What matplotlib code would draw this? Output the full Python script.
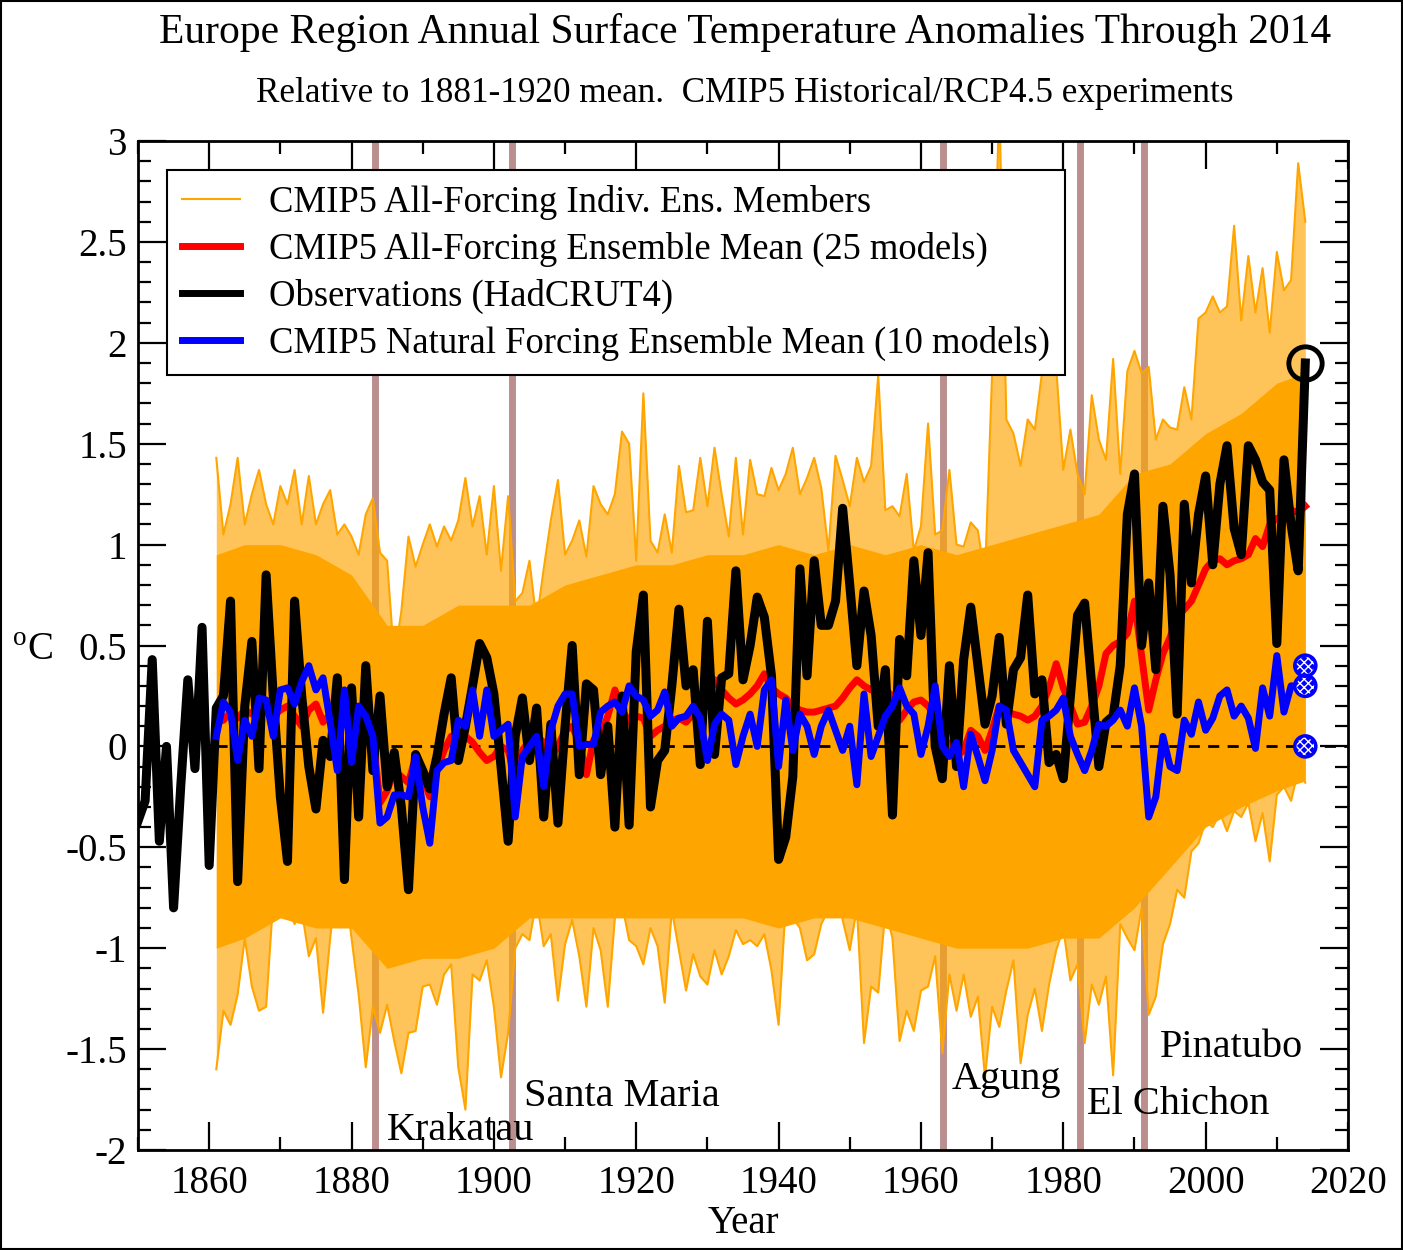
import numpy as np
import matplotlib.pyplot as plt
from matplotlib.lines import Line2D
from matplotlib.patches import Rectangle

plt.rcParams['font.family'] = ['Liberation Serif', 'DejaVu Serif']
plt.rcParams['mathtext.fontset'] = 'custom'
plt.rcParams['mathtext.rm'] = 'Liberation Serif'
plt.rcParams['axes.unicode_minus'] = False

# Observations (HadCRUT4), 1850-2014
obs_years = np.arange(1850, 2015)
obs = [-0.37, -0.27, 0.43, -0.47, 0.00, -0.80, -0.20, 0.33, -0.11, 0.59,
       -0.59, 0.19, 0.25, 0.72, -0.67, 0.20, 0.52, -0.11, 0.85, 0.25,
       -0.25, -0.57, 0.72, 0.25, -0.10, -0.31, 0.03, -0.05, 0.34, -0.66,
       0.29, -0.35, 0.40, -0.12, 0.25, -0.20, -0.03, -0.30, -0.71, -0.04,
       -0.12, -0.21, -0.05, 0.16, 0.34, -0.07, 0.10, 0.30, 0.51, 0.44,
       0.26, -0.10, -0.47, 0.05, 0.24, -0.07, 0.19, -0.35, 0.11, -0.38,
       0.10, 0.50, -0.14, 0.31, 0.28, -0.14, 0.10, -0.40, 0.25, -0.39,
       0.47, 0.75, -0.30, -0.07, -0.02, 0.30, 0.68, 0.30, 0.38, -0.09,
       0.62, -0.04, 0.34, 0.36, 0.87, 0.33, 0.50, 0.74, 0.64, 0.35,
       -0.56, -0.45, -0.15, 0.88, 0.35, 0.92, 0.60, 0.60, 0.72, 1.18,
       0.80, 0.40, 0.77, 0.55, 0.10, 0.38, -0.34, 0.53, 0.35, 0.92,
       0.55, 0.96, 0.00, -0.16, 0.40, -0.10, 0.43, 0.69, 0.40, 0.11,
       0.25, 0.54, 0.11, 0.38, 0.44, 0.75, 0.26, 0.33, -0.08, -0.04,
       -0.16, 0.25, 0.65, 0.71, 0.30, -0.10, 0.12, 0.15, 0.40, 1.15,
       1.35, 0.50, 0.81, 0.38, 1.19, 0.85, 0.16, 1.20, 0.81, 1.15,
       1.34, 0.90, 1.30, 1.49, 1.08, 0.95, 1.49, 1.42, 1.31, 1.27,
       0.51, 1.42, 1.10, 0.87, 1.90]

# CMIP5 all-forcing ensemble mean, 1861-2014
mod_years = np.arange(1861, 2015)
all_mean = [0.12, 0.13, 0.17, 0.14, 0.18, 0.16, 0.20, 0.17, 0.15, 0.18,
            0.20, 0.15, 0.10, 0.18, 0.21, 0.12, 0.16, 0.10, 0.14, 0.08,
            0.12, 0.10, 0.05, -0.28, -0.22, -0.12, -0.15, -0.18, -0.05, -0.15,
            -0.25, -0.12, -0.02, 0.05, 0.06, 0.05, 0.02, -0.03, -0.07, -0.05,
            0.00, -0.02, -0.15, -0.02, 0.03, 0.05, 0.02, -0.05, 0.00, 0.08,
            0.10, 0.02, -0.14, 0.03, 0.05, 0.15, 0.28, 0.18, 0.12, 0.15,
            0.14, 0.05, 0.08, 0.10, 0.13, 0.14, 0.12, 0.16, 0.18, 0.22,
            0.33, 0.28, 0.24, 0.21, 0.23, 0.26, 0.30, 0.36, 0.29, 0.26,
            0.24, 0.20, 0.18, 0.17, 0.17, 0.18, 0.19, 0.20, 0.24, 0.29,
            0.33, 0.30, 0.28, 0.27, 0.28, 0.25, 0.13, 0.18, 0.22, 0.23,
            0.20, 0.15, 0.05, 0.01, -0.05, -0.02, 0.08, 0.05, -0.02, 0.08,
            0.20, 0.17, 0.16, 0.15, 0.13, 0.15, 0.20, 0.29, 0.41, 0.29,
            0.20, 0.11, 0.12, 0.20, 0.30, 0.46, 0.50, 0.52, 0.56, 0.72,
            0.45, 0.18, 0.33, 0.46, 0.54, 0.64, 0.68, 0.72, 0.80, 0.88,
            0.92, 0.93, 0.90, 0.92, 0.93, 0.95, 1.03, 0.99, 1.10, 1.13,
            1.12, 1.17, 1.16, 1.19]

# CMIP5 natural forcing ensemble mean, 1861-2013
nat_years = np.arange(1861, 2014)
nat_mean = [0.05, 0.22, 0.17, -0.07, 0.13, 0.05, 0.24, 0.23, 0.05, 0.28,
            0.29, 0.21, 0.32, 0.40, 0.28, 0.34, 0.12, -0.12, 0.28, -0.08,
            0.20, 0.15, 0.05, -0.38, -0.35, -0.24, -0.24, -0.25, -0.05, -0.30,
            -0.48, -0.12, -0.08, -0.07, 0.13, 0.10, 0.28, 0.05, 0.28, 0.05,
            0.08, 0.11, -0.35, -0.05, 0.00, 0.05, -0.20, 0.08, 0.20, 0.26,
            0.26, 0.00, 0.01, 0.01, 0.17, 0.20, 0.22, 0.17, 0.30, 0.25,
            0.23, 0.15, 0.18, 0.27, 0.10, 0.14, 0.15, 0.20, 0.14, -0.07,
            0.11, 0.16, 0.13, -0.09, 0.05, 0.16, 0.00, 0.28, 0.33, -0.10,
            0.23, -0.02, 0.16, 0.10, -0.04, 0.10, 0.18, 0.08, -0.02, 0.10,
            -0.19, 0.26, -0.05, 0.05, 0.15, 0.20, 0.29, 0.20, 0.16, -0.04,
            0.10, 0.30, 0.00, -0.05, 0.02, -0.20, 0.06, -0.05, -0.17, -0.02,
            0.20, 0.18, -0.02, -0.08, -0.14, -0.20, 0.13, 0.15, 0.18, 0.24,
            0.05, -0.04, -0.12, -0.02, 0.11, 0.10, 0.13, 0.18, 0.10, 0.29,
            0.10, -0.35, -0.25, 0.05, -0.10, -0.12, 0.13, 0.06, 0.22, 0.08,
            0.14, 0.25, 0.28, 0.15, 0.20, 0.14, -0.01, 0.29, 0.15, 0.45,
            0.17, 0.30, 0.30]

# outer edges of the individual ensemble members, 1861-2014
ens_max = [1.43, 1.05, 1.20, 1.43, 1.10, 1.25, 1.37, 1.20, 1.10, 1.29,
           1.20, 1.37, 1.10, 1.34, 1.10, 1.20, 1.27, 1.05, 1.10, 1.04,
           0.95, 1.15, 1.23, 0.96, 0.92, 0.43, 0.67, 1.04, 0.89, 1.00,
           1.10, 0.99, 1.09, 1.02, 1.12, 1.33, 1.09, 1.24, 0.95, 1.29,
           0.87, 1.24, 0.72, 0.76, 0.92, 0.62, 0.88, 1.12, 1.32, 0.95,
           1.02, 1.12, 0.94, 1.29, 1.20, 1.15, 1.25, 1.56, 1.50, 0.92,
           1.75, 1.02, 0.96, 1.15, 0.96, 1.39, 1.16, 1.17, 1.43, 1.19,
           1.48, 1.25, 1.04, 1.43, 1.05, 1.42, 1.25, 1.24, 1.38, 1.27,
           1.35, 1.48, 1.25, 1.33, 1.43, 1.28, 0.97, 1.44, 1.32, 1.19,
           1.43, 1.31, 1.39, 1.84, 1.17, 1.19, 1.14, 1.35, 0.97, 1.09,
           1.60, 1.05, 1.07, 1.37, 1.00, 0.99, 1.11, 1.07, 0.84, 1.85,
           3.20, 1.62, 1.55, 1.39, 1.62, 1.57, 1.85, 1.86, 1.88, 1.37,
           1.57, 1.35, 1.25, 1.74, 1.52, 1.42, 1.92, 1.35, 1.86, 1.96,
           1.85, 1.88, 1.52, 1.62, 1.58, 1.57, 1.78, 1.62, 2.12, 2.15,
           2.23, 2.15, 2.18, 2.58, 2.11, 2.43, 2.15, 2.37, 2.05, 2.45,
           2.26, 2.31, 2.89, 2.60]
ens_min = [-1.60, -1.31, -1.38, -1.23, -0.95, -1.19, -1.31, -1.29, -0.76, -0.76,
           -0.80, -0.88, -0.81, -1.04, -0.95, -1.32, -0.95, -0.63, -0.66, -0.95,
           -1.23, -1.59, -1.29, -1.42, -1.28, -1.46, -1.62, -1.42, -1.41, -1.19,
           -1.18, -1.28, -1.13, -1.08, -1.59, -1.80, -1.13, -1.16, -1.06, -1.29,
           -1.64, -1.42, -1.00, -0.93, -0.96, -0.76, -0.99, -0.93, -1.26, -0.98,
           -0.86, -1.04, -1.29, -0.90, -1.01, -1.29, -0.85, -0.78, -0.96, -0.99,
           -1.08, -0.90, -0.99, -1.27, -0.81, -1.01, -1.21, -1.03, -1.14, -1.18,
           -1.01, -1.13, -1.04, -0.91, -0.98, -0.96, -0.99, -0.93, -1.11, -1.38,
           -0.78, -0.85, -0.90, -1.06, -1.03, -0.88, -0.81, -0.68, -0.86, -1.01,
           -0.80, -1.47, -1.19, -1.22, -0.81, -0.95, -1.46, -1.31, -1.41, -1.21,
           -1.19, -1.04, -1.52, -1.13, -1.31, -1.13, -1.34, -1.24, -1.64, -1.29,
           -1.39, -1.21, -1.06, -1.57, -1.33, -1.20, -1.41, -1.18, -1.01, -0.90,
           -1.16, -1.08, -1.47, -1.18, -1.28, -1.14, -1.63, -0.88, -0.95, -1.01,
           -0.80, -1.33, -1.24, -0.98, -0.88, -0.71, -0.75, -0.52, -0.48, -0.37,
           -0.40, -0.33, -0.42, -0.32, -0.35, -0.28, -0.47, -0.33, -0.57, -0.24,
           -0.20, -0.27, -0.12, -0.18]

# dense middle of the ensemble spread
core_years = [1861, 1865, 1870, 1875, 1880, 1885, 1890, 1895, 1900, 1905, 1910,
              1915, 1920, 1925, 1930, 1935, 1940, 1945, 1950, 1955, 1960, 1965,
              1970, 1975, 1980, 1985, 1990, 1995, 2000, 2005, 2010, 2014]
core_hi = [0.95, 1.00, 1.00, 0.95, 0.85, 0.60, 0.60, 0.70, 0.70, 0.70, 0.80,
           0.85, 0.90, 0.90, 0.95, 0.95, 1.00, 0.95, 1.00, 0.95, 1.00, 0.95,
           1.00, 1.05, 1.10, 1.15, 1.35, 1.40, 1.55, 1.65, 1.80, 1.85]
core_lo = [-1.00, -0.95, -0.85, -0.90, -0.90, -1.10, -1.05, -1.05, -1.00, -0.85, -0.85,
           -0.85, -0.85, -0.85, -0.85, -0.85, -0.90, -0.85, -0.85, -0.90, -0.95, -1.00,
           -1.00, -1.00, -0.95, -0.95, -0.80, -0.60, -0.40, -0.30, -0.22, -0.17]

# volcanic eruptions
volc_years = [1883.3, 1902.6, 1963.1, 1982.3, 1991.3]
volc_names = ['Krakatau', 'Santa Maria', 'Agung', 'El Chichon', 'Pinatubo']
volc_text_x = [1885.0, 1904.3, 1964.3, 1983.3, 1993.6]
volc_text_y = [-1.95, -1.78, -1.70, -1.82, -1.54]

# end markers (2014)
end_nat = [0.40, 0.30, 0.00]

orange = '#ffa500'

fig = plt.figure(figsize=(14.03, 12.5), dpi=100)
ax = fig.add_axes([138/1403, 100/1250, 1210/1403, 1009/1250])

for v in volc_years:
    ax.axvline(v, color='#bc8f8f', lw=5, zorder=0)

ax.fill_between(mod_years, ens_min, ens_max, color=orange, alpha=0.65, lw=0, zorder=1)
ax.fill_between(core_years, core_lo, core_hi, color=orange, lw=0, zorder=1)
ax.plot(mod_years, ens_max, color=orange, lw=1.5, zorder=1)
ax.plot(mod_years, ens_min, color=orange, lw=1.5, zorder=1)

ax.plot([1861, 2020], [0, 0], color='black', lw=2, ls=(0, (4, 3)), zorder=2)

ax.plot(mod_years, all_mean, color='red', lw=5, zorder=3)
ax.plot(obs_years, obs, color='black', lw=6.5, zorder=4)
ax.plot(nat_years, nat_mean, color='blue', lw=5, zorder=5)

ax.plot(obs_years[-1], obs[-1], 'o', ms=24, mfc='none', mec='black', mew=3.5, zorder=6)
ax.scatter([2014] * 3, end_nat, s=230, facecolor='blue', edgecolor='white',
           hatch='xxxx', lw=0, zorder=6)
ax.scatter([2014] * 3, end_nat, s=230, facecolor='none', edgecolor='blue', lw=2.5, zorder=7)

for name, tx, ty in zip(volc_names, volc_text_x, volc_text_y):
    ax.text(tx, ty, name, fontsize=29, ha='left', va='baseline', zorder=8)

ax.set_xlim(1850, 2020)
ax.set_ylim(-2, 3)
ax.set_xticks(np.arange(1860, 2021, 20))
ax.set_xticks(np.arange(1850, 2021, 10), minor=True)
ax.set_yticks(np.arange(-2, 3.01, 0.5))
ax.set_yticklabels(['-2', '-1.5', '-1', '-0.5', '0', '0.5', '1', '1.5', '2', '2.5', '3'])
ax.set_yticks(np.arange(-2, 3.01, 0.1), minor=True)
ax.tick_params(which='both', direction='in', top=True, right=True, width=1.6, labelsize=28)
ax.tick_params(which='major', length=20)
ax.tick_params(which='minor', length=9.5)
ax.tick_params(axis='x', pad=11)
ax.tick_params(axis='y', pad=8)
for s in ax.spines.values():
    s.set_linewidth(2)

ax.set_xlabel('Year', fontsize=28, labelpad=2)
fig.text(12/1403, 1 - 650/1250, r'$^{\rm o}$C', fontsize=28, ha='left', va='center')

handles = [Line2D([], [], color=orange, lw=1.5),
           Line2D([], [], color='red', lw=5),
           Line2D([], [], color='black', lw=5),
           Line2D([], [], color='blue', lw=5)]
labels = ['CMIP5 All-Forcing Indiv. Ens. Members',
          'CMIP5 All-Forcing Ensemble Mean (25 models)',
          'Observations (HadCRUT4)',
          'CMIP5 Natural Forcing Ensemble Mean (10 models)']
leg = ax.legend(handles, labels, loc='upper left', bbox_to_anchor=(0.024, 0.971),
                fontsize=26.4, frameon=True, fancybox=False, framealpha=1,
                edgecolor='black', handlelength=1.6, handletextpad=0.78,
                labelspacing=0.32, borderpad=0.4, borderaxespad=0)
leg.get_frame().set_linewidth(1.5)
leg.set_zorder(10)

fig.text(745/1403, 1 - 33/1250, 'Europe Region Annual Surface Temperature Anomalies Through 2014',
         fontsize=29.9, ha='center', va='center')
fig.text(745/1403, 1 - 94/1250, 'Relative to 1881-1920 mean.  CMIP5 Historical/RCP4.5 experiments',
         fontsize=25.3, ha='center', va='center')

fig.patches.append(Rectangle((0.001, 0.001), 0.998, 0.998, transform=fig.transFigure,
                             fill=False, edgecolor='black', lw=1.5))

fig.savefig('out.png', dpi=100)
